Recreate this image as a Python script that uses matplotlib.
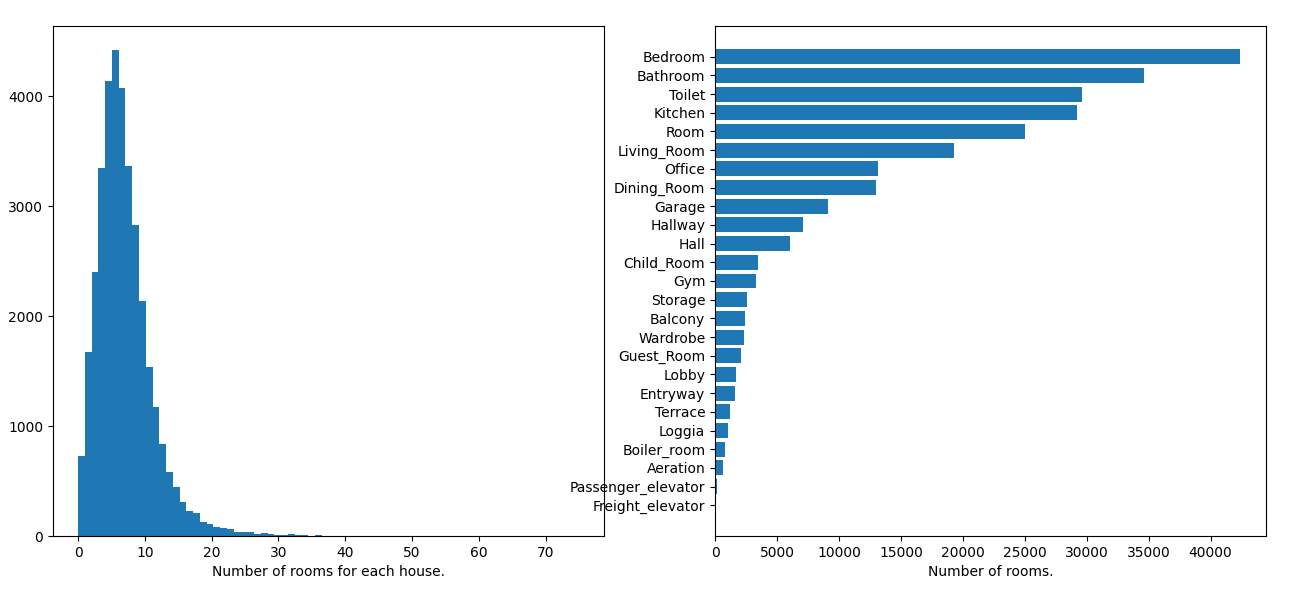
import numpy as np
import matplotlib
matplotlib.use('Agg')
import matplotlib.pyplot as plt

# histogram: rooms per house, 74 bins between 0 and 75
hist_range = (0, 75)
n_bins = 74
hist_counts = [727, 1673, 2400, 3348, 4136, 4418, 4073, 3364, 2827, 2136,
               1536, 1173, 836, 582, 445, 307, 226, 208, 126, 109,
               80, 71, 62, 35, 35, 35, 20, 27, 16, 9,
               9, 16, 7, 7, 2, 8, 3, 2, 2, 1,
               1, 1, 0, 1, 0, 1, 0, 0, 1, 0,
               0, 0, 1, 0, 0, 0, 0, 0, 0, 1,
               0, 0, 0, 0, 0, 0, 0, 0, 0, 0,
               0, 0, 0, 1]

# bar chart: total number of each room type
room_types = ['Bedroom', 'Bathroom', 'Toilet', 'Kitchen', 'Room', 'Living_Room',
              'Office', 'Dining_Room', 'Garage', 'Hallway', 'Hall', 'Child_Room',
              'Gym', 'Storage', 'Balcony', 'Wardrobe', 'Guest_Room', 'Lobby',
              'Entryway', 'Terrace', 'Loggia', 'Boiler_room', 'Aeration',
              'Passenger_elevator', 'Freight_elevator']
room_counts = [42350, 34650, 29650, 29250, 25050, 19300,
               13150, 12980, 9100, 7070, 6040, 3440,
               3280, 2560, 2400, 2320, 2070, 1670,
               1590, 1190, 1020, 780, 620,
               120, 10]

fig, (ax1, ax2) = plt.subplots(1, 2, figsize=(13.16, 5.93), dpi=100)
fig.subplots_adjust(left=0.0403, right=0.962, top=0.9562, bottom=0.0961, wspace=0.2015)

edges = np.linspace(hist_range[0], hist_range[1], n_bins + 1)
centers = (edges[:-1] + edges[1:]) / 2
ax1.hist(centers, bins=edges, weights=hist_counts)
ax1.set_xlabel('Number of rooms for each house.')

ax2.barh(room_types, room_counts)
ax2.invert_yaxis()
ax2.set_xlabel('Number of rooms.')

plt.savefig('out.png')
